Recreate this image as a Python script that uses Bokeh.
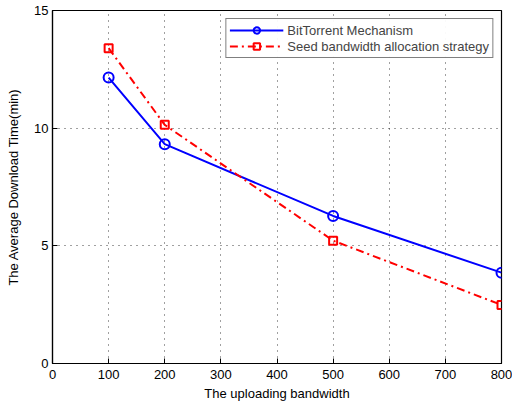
from bokeh.plotting import figure
from bokeh.models import Range1d, FixedTicker, Legend, LegendItem
from bokeh.embed import file_html
from bokeh.resources import INLINE

bandwidth = [100, 200, 500, 800]
bittorrent = [12.15, 9.32, 6.27, 3.86]
seed_alloc = [13.4, 10.14, 5.22, 2.49]
x_ticks = [0, 100, 200, 300, 400, 500, 600, 700, 800]
y_ticks = [0, 5, 10, 15]

FONT = "Liberation Sans"

p = figure(width=512, height=403, output_backend="svg", toolbar_location=None,
           x_range=Range1d(0, 800), y_range=Range1d(0, 15),
           min_border_left=52, min_border_right=11, min_border_top=10, min_border_bottom=39)
p.background_fill_color = "white"
p.border_fill_color = "white"
p.outline_line_color = "black"
p.outline_line_width = 1.2

for ax in (p.xaxis[0], p.yaxis[0]):
    ax.major_tick_in = 5
    ax.major_tick_out = 0
    ax.minor_tick_in = 0
    ax.minor_tick_out = 0
    ax.axis_line_color = "black"
    ax.axis_line_width = 1.2
    ax.major_label_text_font = FONT
    ax.major_label_text_font_size = "13px"
    ax.major_label_text_color = "black"
    ax.axis_label_text_font = FONT
    ax.axis_label_text_font_size = "13px"
    ax.axis_label_text_font_style = "normal"
    ax.axis_label_text_color = "black"

p.xaxis.ticker = FixedTicker(ticks=x_ticks)
p.yaxis.ticker = FixedTicker(ticks=y_ticks)
p.xaxis.axis_label = "The uploading bandwidth"
p.yaxis.axis_label = "The Average Download Time(min)"
p.xaxis.major_label_standoff = 6
p.xaxis.axis_label_standoff = 4
p.yaxis.major_label_standoff = 4
p.yaxis.axis_label_standoff = 10

p.xgrid.ticker = FixedTicker(ticks=x_ticks)
p.ygrid.ticker = FixedTicker(ticks=y_ticks)
for g in (p.xgrid[0], p.ygrid[0]):
    g.grid_line_color = "black"
    g.grid_line_dash = "1 5"
    g.grid_line_width = 1
    g.grid_line_alpha = 0.75

l1 = p.line(bandwidth, bittorrent, line_color="#0000ff", line_width=2)
m1 = p.scatter(bandwidth, bittorrent, marker="circle", size=10, line_color="#0000ff",
               line_width=2, fill_alpha=0)
l2 = p.line(bandwidth, seed_alloc, line_color="#ff0000", line_width=2, line_dash="8 4 2 4")
m2 = p.scatter(bandwidth, seed_alloc, marker="square", size=8, line_color="#ff0000",
               line_width=2, fill_alpha=0)

legend = Legend(items=[
    LegendItem(label="BitTorrent Mechanism", renderers=[l1, m1]),
    LegendItem(label="Seed bandwidth allocation strategy", renderers=[l2, m2]),
], location="top_right")
legend.label_text_font = FONT
legend.label_text_font_size = "13px"
legend.label_height = 16
legend.glyph_height = 16
legend.glyph_width = 54
legend.spacing = 0
legend.padding = 3
legend.margin = 8
legend.label_standoff = 4
legend.border_line_color = "black"
legend.border_line_width = 1.2
legend.background_fill_color = "white"
p.add_layout(legend)

open("out.html", "w").write(file_html(p, INLINE))
